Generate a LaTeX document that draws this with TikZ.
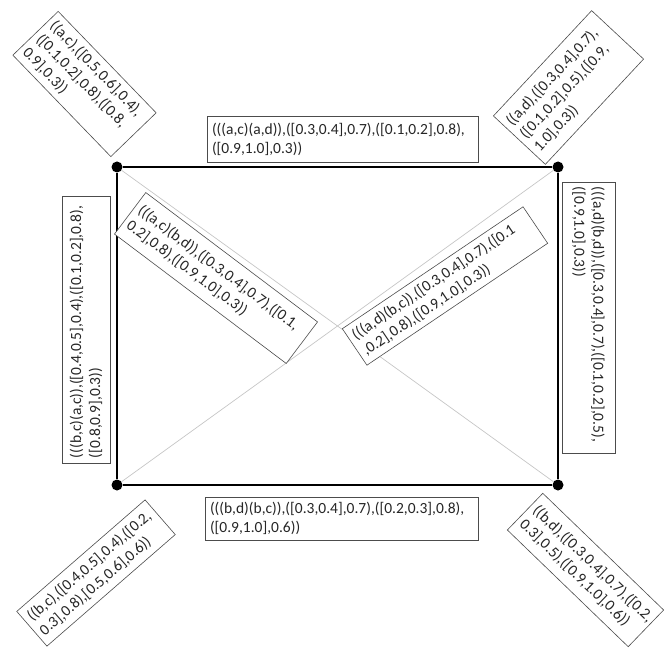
\documentclass[tikz,border=0pt]{standalone}
\usepackage{fontspec}
\setmainfont{Carlito}
\tikzset{
  lbl/.style={draw=black!70, fill=white, line width=0.6pt, align=left,
              inner xsep=5pt, inner ysep=3pt, text=black!85,
              font=\fontsize{15.5}{19}\selectfont},
  vtx/.style={circle, fill=black, minimum size=11pt, inner sep=0},
}

\begin{document}
\begin{tikzpicture}[x=1pt, y=-1pt,
      edge/.style={line width=1.8pt},
      diag/.style={gray!45, line width=0.7pt},
    ]
    \useasboundingbox (0,0) rectangle (664,655);

    % Vertices
    \node[vtx] (ac) at (117,167) {};
    \node[vtx] (ad) at (558,167) {};
    \node[vtx] (bc) at (117,485) {};
    \node[vtx] (bd) at (558,485) {};

    % Diagonals and sides
    \draw[diag] (ac) -- (bd);
    \draw[diag] (ad) -- (bc);
    \draw[edge] (ac) -- (ad);
    \draw[edge] (ad) -- (bd);
    \draw[edge] (bd) -- (bc);
    \draw[edge] (bc) -- (ac);

    % Vertex labels
    \node[lbl, rotate=-46, text width=131pt, minimum height=63pt] (lac) at (84.5,84)
      {((a,c),([0.5,0.6],0.4),\\([0.1,0.2],0.8),([0.8,\\0.9],0.3))};
    \node[lbl, rotate=47, text width=134pt, minimum height=71pt] (lad) at (568.5,87.5)
      {((a,d),([0.3,0.4],0.7),\\([0.1,0.2],0.5),([0.9,\\1.0],0.3))};
    \node[lbl, rotate=41, text width=160pt, minimum height=46pt] (lbc) at (96,573)
      {((b,c),([0.4,0.5],0.4),([0.2,\\0.3],0.8),[0.5,0.6],0.6))};
    \node[lbl, rotate=-44, text width=158pt, minimum height=51pt] (lbd) at (585.5,570)
      {((b,d),([0.3,0.4],0.7),([0.2,\\0.3],0.5),([0.9,1.0],0.6))};

    % Edge labels
    \node[lbl, text width=261pt, minimum height=46pt] (lacad) at (342.5,139)
      {(((a,c)(a,d)),([0.3,0.4],0.7),([0.1,0.2],0.8),\\([0.9,1.0],0.3))};
    \node[lbl, text width=263pt, minimum height=43pt] (lbdbc) at (341.5,518.5)
      {(((b,d)(b,c)),([0.3,0.4],0.7),([0.2,0.3],0.8),\\([0.9,1.0],0.6))};
    \node[lbl, rotate=90, text width=257pt, minimum height=48pt] (lbcac) at (86,329.5)
      {(((b,c)(a,c)),([0.4,0.5],0.4),([0.1,0.2],0.8),\\([0.8,0.9],0.3))};
    \node[lbl, rotate=-90, text width=261pt, minimum height=53pt] (ladbd) at (588.5,317.5)
      {(((a,d)(b,d)),([0.3,0.4],0.7),([0.1,0.2],0.5),\\([0.9,1.0],0.3))};

    % Diagonal labels
    \node[lbl, rotate=-37, text width=205pt, minimum height=52pt] (lacbd) at (216,278)
      {(((a,c)(b,d)),([0.3,0.4],0.7),([0.1,\\0.2],0.8),([0.9,1.0],0.3))};
    \node[lbl, rotate=34, text width=208pt, minimum height=44pt] (ladbc) at (445,286)
      {(((a,d)(b,c)),([0.3,0.4],0.7),([0.1\\,0.2],0.8),([0.9,1.0],0.3))};
  \end{tikzpicture}
\end{document}
